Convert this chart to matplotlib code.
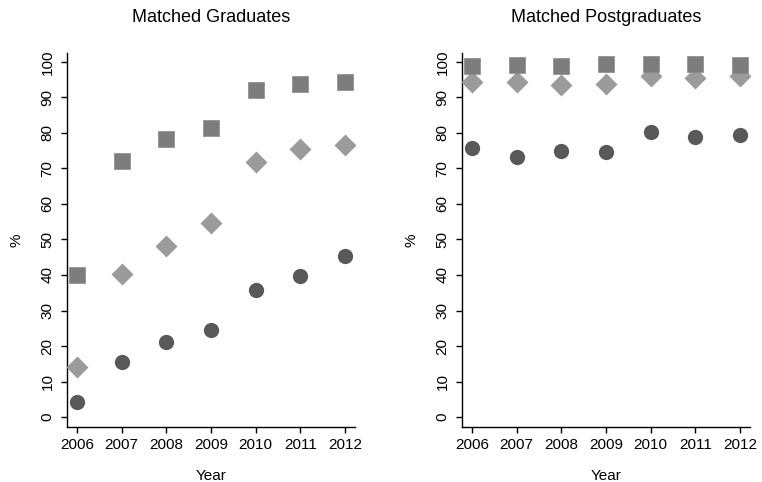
import matplotlib
matplotlib.use("Agg")
import matplotlib.pyplot as plt

plt.rcParams['font.family'] = ['Liberation Sans', 'DejaVu Sans']

years = [2006, 2007, 2008, 2009, 2010, 2011, 2012]

grad_square = [40.0, 72.2, 78.4, 81.5, 92.2, 93.7, 94.2]
grad_diamond = [14.2, 40.2, 48.2, 54.5, 71.8, 75.5, 76.6]
grad_circle = [4.2, 15.4, 21.1, 24.6, 35.8, 39.8, 45.3]

post_square = [98.8, 99.2, 98.9, 99.4, 99.5, 99.5, 99.2]
post_diamond = [94.4, 94.4, 93.5, 93.9, 95.9, 95.4, 95.9]
post_circle = [75.8, 73.2, 75.0, 74.5, 80.3, 78.9, 79.3]

titles = ["Matched Graduates", "Matched Postgraduates"]
yticks = list(range(0, 101, 10))

fig = plt.figure(figsize=(7.62, 4.82), dpi=100)
axL = fig.add_axes([67/762, 55/482, 288/762, 374/482])
axR = fig.add_axes([462/762, 55/482, 288/762, 374/482])

panels = [(axL, grad_square, grad_diamond, grad_circle),
          (axR, post_square, post_diamond, post_circle)]

for (ax, sq, di, ci), title in zip(panels, titles):
    ax.plot(years, ci, 'o', ms=11, color='#595959', mec='none', zorder=3)
    ax.plot(years, di, 'D', ms=11.3, color='#9b9b9b', mec='none', zorder=4)
    ax.plot(years, sq, 's', ms=11, color='#7d7d7d', mec='#8a8a8a', mew=0.5, zorder=5)
    ax.set_xlim(2005.78, 2012.22)
    ax.set_ylim(-2.8, 102.5)
    ax.set_xticks(years)
    ax.set_xticklabels([str(y) for y in years], fontsize=11)
    ax.set_yticks(yticks)
    ax.set_yticklabels([str(v) for v in yticks], fontsize=11, rotation=90, va='center')
    ax.spines['top'].set_visible(False)
    ax.spines['right'].set_visible(False)
    ax.spines['left'].set_linewidth(1.0)
    ax.spines['bottom'].set_linewidth(1.0)
    ax.tick_params(axis='both', direction='out', length=4, width=1.0, pad=4)
    ax.tick_params(axis='y', pad=5)
    ax.set_xlabel("Year", fontsize=11, labelpad=12.5)
    ax.set_ylabel("%", fontsize=11, labelpad=12)
    ax.set_title(title, fontsize=13, pad=22)

fig.savefig("out.png", dpi=100, facecolor='white')
